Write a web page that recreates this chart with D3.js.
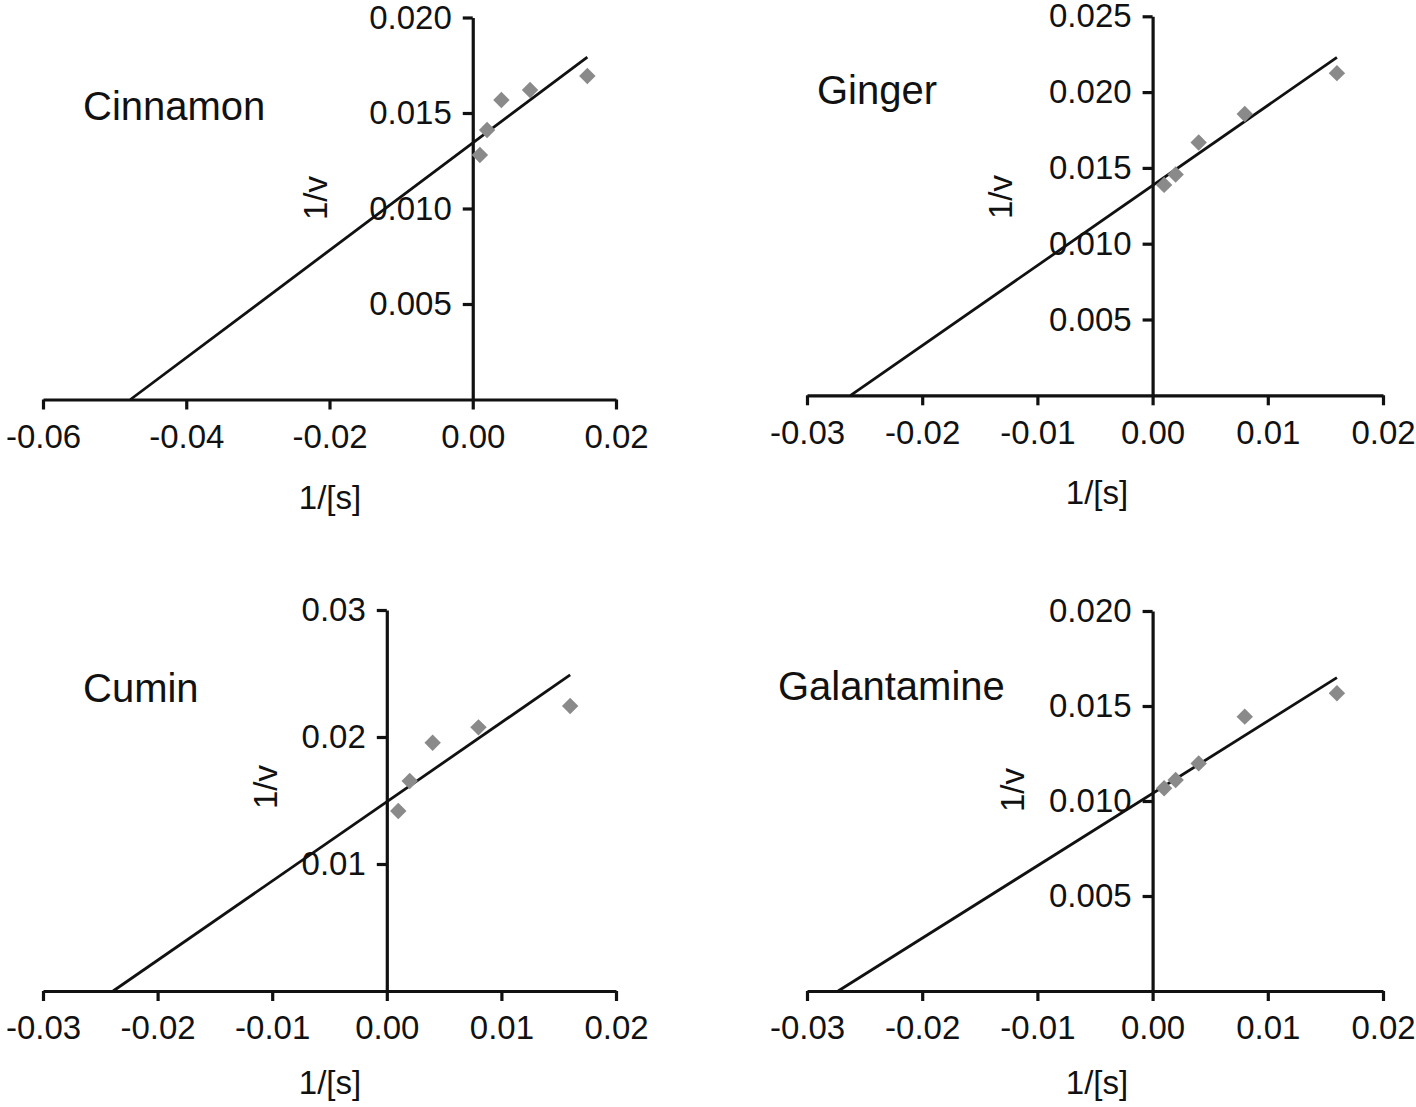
<!DOCTYPE html>
<html lang="en">
<head>
<meta charset="UTF-8">
<title>Lineweaver-Burk plots</title>
<script src="https://cdn.jsdelivr.net/npm/d3@7"></script>
<style>
  body { margin: 0; background: #fff; }
  svg { display: block; font-family: 'Liberation Sans', Arial, sans-serif; }
  .axis path, .axis line { stroke: #111; stroke-width: 3.2; }
  .axis text { fill: #111; font-size: 33px; font-family: 'Liberation Sans', Arial, sans-serif; }
  .label { fill: #111; font-size: 33px; }
  .title { fill: #111; font-size: 40px; }
</style>
</head>
<body>
<svg id="chart" width="1416" height="1107"></svg>
<script>
// data
const panelNames   = ["Cinnamon", "Ginger", "Cumin", "Galantamine"];
const invS         = [0.001, 0.002, 0.004, 0.008, 0.016];          // 1/[s]
const cinnamonInvV = [0.0128, 0.01411, 0.01568, 0.0162, 0.01694];   // 1/v
const gingerInvV   = [0.01388, 0.01456, 0.01668, 0.01855, 0.02125];
const cuminInvV    = [0.01417, 0.01654, 0.01955, 0.02076, 0.02244];
const galantInvV   = [0.01067, 0.01111, 0.01198, 0.01444, 0.01567];
const fitIntercept = [0.01343, 0.01384, 0.0149, 0.0104];
const fitSlope     = [0.281, 0.528, 0.624, 0.381];
const xTicksWide   = [-0.06, -0.04, -0.02, 0, 0.02];
const xTicksNarrow = [-0.03, -0.02, -0.01, 0, 0.01, 0.02];
const yTicks1      = [0.005, 0.010, 0.015, 0.020];
const yTicks2      = [0.005, 0.010, 0.015, 0.020, 0.025];
const yTicks3      = [0.01, 0.02, 0.03];
const yTicks4      = [0.005, 0.010, 0.015, 0.020];

const series = [cinnamonInvV, gingerInvV, cuminInvV, galantInvV];
const xTickSets = [xTicksWide, xTicksNarrow, xTicksNarrow, xTicksNarrow];
const yTickSets = [yTicks1, yTicks2, yTicks3, yTicks4];
const yFormats = [".3f", ".3f", ".2f", ".3f"];

// layout (pixels)
const layout = [
  { x: [43, 616],  y: [399.5, 17.5], title: [83, 120],  ylab: [315, 198],  xlab: [330, 497] },
  { x: [807, 1383], y: [395.3, 16.3], title: [817, 104], ylab: [1000, 197], xlab: [1097, 492] },
  { x: [43, 616],  y: [991, 610],   title: [83, 702],  ylab: [265, 787],  xlab: [330, 1082] },
  { x: [807, 1383], y: [991, 611],   title: [778, 700], ylab: [1012, 790], xlab: [1097, 1082] }
];

const svg = d3.select('#chart');

panelNames.forEach((name, i) => {
  const L = layout[i];
  const xt = xTickSets[i], yt = yTickSets[i];
  const x = d3.scaleLinear().domain([xt[0], xt[xt.length - 1]]).range(L.x);
  const y = d3.scaleLinear().domain([0, yt[yt.length - 1]]).range(L.y);
  const g = svg.append('g');

  // x axis at y = 0
  g.append('g').attr('class', 'axis')
    .attr('transform', `translate(0,${y(0)})`)
    .call(d3.axisBottom(x).tickValues(xt).tickFormat(d3.format('.2f'))
      .tickSize(10).tickSizeOuter(0).tickPadding(15))
    .call(a => a.selectAll('text').text(d => d3.format('.2f')(d).replace('−', '-')));

  // y axis at x = 0
  g.append('g').attr('class', 'axis')
    .attr('transform', `translate(${x(0)},0)`)
    .call(d3.axisLeft(y).tickValues(yt).tickFormat(d3.format(yFormats[i]))
      .tickSize(10).tickSizeOuter(0).tickPadding(11));

  // fitted line from x-intercept to last point
  const b = fitIntercept[i], m = fitSlope[i];
  const x0 = -b / m, x1 = invS[invS.length - 1];
  g.append('line')
    .attr('x1', x(x0)).attr('y1', y(0))
    .attr('x2', x(x1)).attr('y2', y(b + m * x1))
    .attr('stroke', '#111').attr('stroke-width', 2.8);

  // points
  const pts = invS.map((s, j) => [s, series[i][j]]);
  g.selectAll('path.pt').data(pts).join('path')
    .attr('class', 'pt')
    .attr('d', d3.symbol(d3.symbolSquare, 135))
    .attr('transform', d => `translate(${x(d[0])},${y(d[1])}) rotate(45)`)
    .attr('fill', '#8a8a8a');

  // labels
  g.append('text').attr('class', 'title')
    .attr('x', L.title[0]).attr('y', L.title[1]).text(name);
  g.append('text').attr('class', 'label')
    .attr('transform', `translate(${L.ylab[0]},${L.ylab[1]}) rotate(-90)`)
    .attr('text-anchor', 'middle').attr('dy', '0.35em').text('1/v');
  g.append('text').attr('class', 'label')
    .attr('x', L.xlab[0]).attr('y', L.xlab[1])
    .attr('text-anchor', 'middle').attr('dy', '0.35em').text('1/[s]');
});
</script>
</body>
</html>
